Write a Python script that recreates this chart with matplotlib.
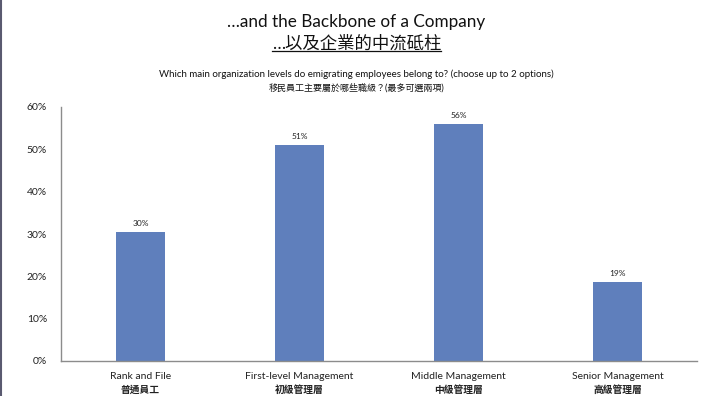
import matplotlib
matplotlib.use("Agg")
import matplotlib.pyplot as plt
from matplotlib.lines import Line2D
from matplotlib.ticker import FuncFormatter

FAM = ['Lato', 'Noto Sans CJK TC', 'DejaVu Sans']
plt.rcParams['font.family'] = FAM

categories_en = ["Rank and File", "First-level Management", "Middle Management", "Senior Management"]
categories_zh = ["普通員工", "初級管理層", "中級管理層", "高級管理層"]
values = [30.4, 51.0, 56.0, 18.6]
yticks = [0, 10, 20, 30, 40, 50, 60]

W, H = 713, 396
fig = plt.figure(figsize=(W / 100, H / 100), dpi=100)
fig.patch.set_facecolor("white")

ax = fig.add_axes([61 / W, 1 - 361 / H, (697 - 61) / W, (361 - 107) / H])
x = list(range(len(values)))
ax.bar(x, values, width=0.31, color="#5f7fbc", zorder=2)
for xi, v in zip(x, values):
    ax.text(xi, v + 1.2, f"{round(v):.0f}%", ha="center", va="bottom", fontsize=6, color="#222222")

ax.set_xlim(-0.5, 3.5)
ax.set_ylim(0, 60)
ax.set_yticks(yticks)
ax.yaxis.set_major_formatter(FuncFormatter(lambda v, p: f"{v:.0f}%"))
ax.tick_params(axis="y", length=0, labelsize=7.5, pad=10, colors="#222222")
ax.set_xticks(x)
ax.set_xticklabels([""] * len(x))
ax.tick_params(axis="x", length=0)
for xi, e, z in zip(x, categories_en, categories_zh):
    ax.text(xi, -3.6, e, ha="center", va="center", fontsize=7.5, color="#222222")
    ax.text(xi, -6.9, z, ha="center", va="center", fontsize=7, color="#222222", fontweight="bold")
for s in ["top", "right"]:
    ax.spines[s].set_visible(False)
for s in ["left", "bottom"]:
    ax.spines[s].set_color("#8c8c8c")
    ax.spines[s].set_linewidth(1.0)

fig.text(0.5, 1 - 22 / H, "…and the Backbone of a Company", ha="center", va="center", fontsize=12.3, color="#111111")
t2 = fig.text(0.5, 1 - 44 / H, "…以及企業的中流砥柱", ha="center", va="center", fontsize=12.5, color="#111111")
fig.text(0.5, 1 - 74 / H, "Which main organization levels do emigrating employees belong to? (choose up to 2 options)",
         ha="center", va="center", fontsize=7, color="#111111")
fig.text(0.5, 1 - 88 / H, "移民員工主要屬於哪些職級？(最多可選兩項)", ha="center", va="center", fontsize=6.5, color="#111111")

fig.canvas.draw()
bb = t2.get_window_extent(renderer=fig.canvas.get_renderer())
yline = (bb.y0 + 1) / H
fig.add_artist(Line2D([bb.x0 / W, bb.x1 / W], [yline, yline], color="#111111", lw=0.9, transform=fig.transFigure))
fig.add_artist(Line2D([0.6 / W, 0.6 / W], [0, 1], color="#5a5a70", lw=1.5, transform=fig.transFigure))

fig.savefig("out.png", dpi=100)
